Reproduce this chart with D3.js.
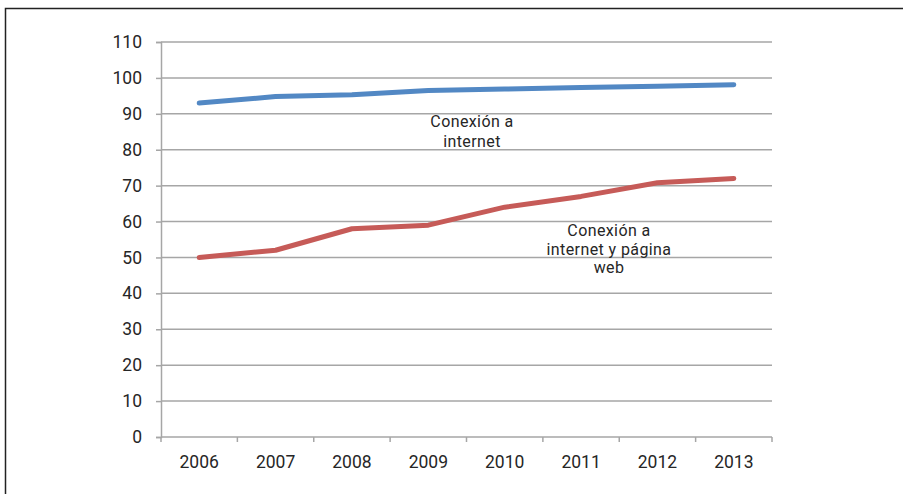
<!DOCTYPE html>
<html>
<head>
<meta charset="utf-8">
<script src="https://cdn.jsdelivr.net/npm/d3@7"></script>
<style>
  html, body { margin: 0; padding: 0; background: #fff; }
  svg { display: block; }
  text { font-family: Roboto, "DejaVu Sans", sans-serif; fill: #262626; }
</style>
</head>
<body>
<svg id="chart" width="903" height="494"></svg>
<script>
// Years on the category axis
const years = ["2006", "2007", "2008", "2009", "2010", "2011", "2012", "2013"];
// Share of firms with an internet connection (%)
const internetValues = [93, 94.8, 95.3, 96.5, 96.9, 97.3, 97.7, 98.1];
// Share of firms with an internet connection and a web page (%)
const webValues = [50, 52, 58, 59, 64, 67, 70.8, 72];
// Value axis ticks
const yTicks = [0, 10, 20, 30, 40, 50, 60, 70, 80, 90, 100, 110];

const svg = d3.select("#chart");
const W = 903, H = 494;
const plot = { left: 161, right: 772, top: 42, bottom: 437 };

// Outer frame (open on the right and bottom)
svg.append("path")
  .attr("d", `M5.5,${H} L5.5,8.5 L${W},8.5`)
  .attr("fill", "none")
  .attr("stroke", "#222")
  .attr("stroke-width", 1.5);

const x = d3.scaleBand().domain(years).range([plot.left, plot.right]);
const y = d3.scaleLinear().domain([0, 110]).range([plot.bottom, plot.top]);

// Horizontal gridlines
svg.append("g")
  .selectAll("line")
  .data(yTicks.filter(d => d > 0))
  .join("line")
  .attr("x1", plot.left).attr("x2", plot.right)
  .attr("y1", d => y(d)).attr("y2", d => y(d))
  .attr("stroke", "#a6a6a6").attr("stroke-width", 1.5);

// Value axis
const yAxis = svg.append("g")
  .attr("transform", `translate(${plot.left},0)`)
  .call(d3.axisLeft(y).tickValues(yTicks).tickSize(5).tickPadding(14));
yAxis.select(".domain").attr("stroke", "#a6a6a6").attr("stroke-width", 1.5);
yAxis.selectAll(".tick line").attr("stroke", "#a6a6a6").attr("stroke-width", 1.5);
yAxis.selectAll(".tick text")
  .attr("font-size", 17.5).attr("fill", "#262626")
  .attr("font-family", "Roboto, sans-serif");

// Category axis with ticks between categories
const xAxisG = svg.append("g").attr("transform", `translate(0,${plot.bottom})`);
xAxisG.append("line")
  .attr("x1", plot.left).attr("x2", plot.right)
  .attr("stroke", "#a6a6a6").attr("stroke-width", 1.5);
const boundaries = years.map(d => x(d)).concat([x(years[years.length - 1]) + x.bandwidth()]);
xAxisG.selectAll("line.tk")
  .data(boundaries)
  .join("line").attr("class", "tk")
  .attr("x1", d => d).attr("x2", d => d)
  .attr("y1", 0).attr("y2", 5)
  .attr("stroke", "#a6a6a6").attr("stroke-width", 1.5);
xAxisG.selectAll("text")
  .data(years)
  .join("text")
  .attr("x", d => x(d) + x.bandwidth() / 2)
  .attr("y", 31)
  .attr("text-anchor", "middle")
  .attr("font-size", 17.5)
  .text(d => d);

// Series lines
const line = d3.line()
  .x((d, i) => x(years[i]) + x.bandwidth() / 2)
  .y(d => y(d));

svg.append("path")
  .datum(internetValues)
  .attr("d", line)
  .attr("fill", "none")
  .attr("stroke", "#5288c4")
  .attr("stroke-width", 5)
  .attr("stroke-linecap", "round")
  .attr("stroke-linejoin", "round");

svg.append("path")
  .datum(webValues)
  .attr("d", line)
  .attr("fill", "none")
  .attr("stroke", "#c65b58")
  .attr("stroke-width", 5)
  .attr("stroke-linecap", "round")
  .attr("stroke-linejoin", "round");

// Series labels
function label(lines, cx, y0, dy) {
  const t = svg.append("text")
    .attr("text-anchor", "middle")
    .attr("font-size", 16)
    .attr("letter-spacing", 0.4)
    .attr("font-family", "Roboto, sans-serif");
  lines.forEach((s, i) => {
    t.append("tspan").attr("x", cx).attr("y", y0 + i * dy).text(s);
  });
}
label(["Conexión a", "internet"], 472, 127, 19.5);
label(["Conexión a", "internet y página", "web"], 609, 236, 18.7);
</script>
</body>
</html>
